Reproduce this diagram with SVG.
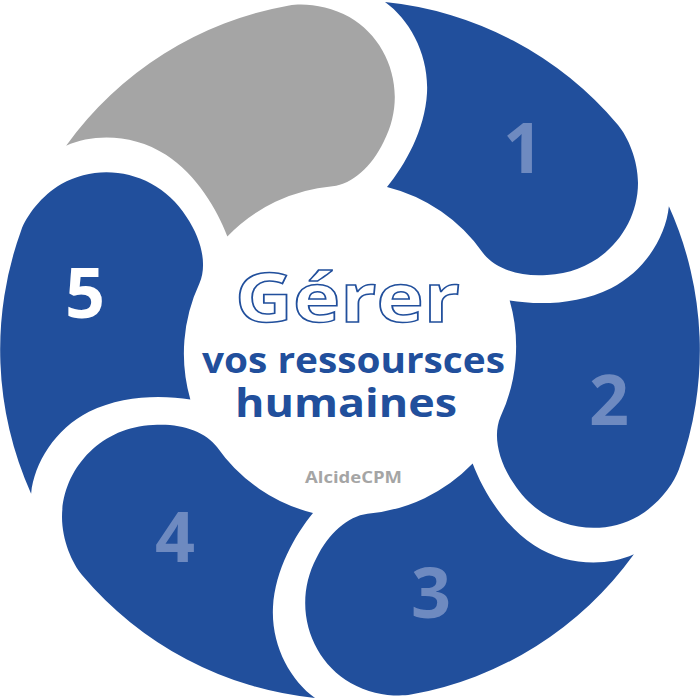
<svg xmlns="http://www.w3.org/2000/svg" width="700" height="700" viewBox="0 0 700 700">
<style>
.seg{fill:#214F9C}
.gray{fill:#A5A5A5}
.num{font-family:"Open Sans","Liberation Sans",sans-serif;font-weight:700;font-size:70px;fill:#6E8AC0;text-anchor:middle}
.ctr{font-family:"Open Sans","Liberation Sans",sans-serif;font-weight:700;text-anchor:middle}
</style>
<defs>
<path id="segShape" d="M385,2 A350,350 0 0 1 618,125 C628,137 638,160 638,183 C638,230 600,273 547,275 C520,277 495,269 483,253 A166,166 0 0 0 387,187 C405,165 425,130 427,93 C429,55 410,20 385,2 Z"/>
</defs>
<rect width="700" height="700" fill="#FFFFFF"/>
<g id="seg0"><use href="#segShape" class="gray" transform="rotate(-60 350 350)"/></g>
<g id="seg1"><use href="#segShape" class="seg"/><text class="num" x="523" y="173">1</text></g>
<g id="seg2"><use href="#segShape" class="seg" transform="rotate(60 350 350)"/><text class="num" x="609" y="425">2</text></g>
<g id="seg3"><use href="#segShape" class="seg" transform="rotate(120 350 350)"/><text class="num" x="431" y="618">3</text></g>
<g id="seg4"><use href="#segShape" class="seg" transform="rotate(180 350 350)"/><text class="num" x="175" y="562">4</text></g>
<g id="seg5"><use href="#segShape" class="seg" transform="rotate(240 350 350)"/><text class="num" x="85" y="318" style="fill:#FFFFFF">5</text></g>
<g id="center">
<text class="ctr" x="347.5" y="322" font-size="68" fill="#FFFFFF" stroke="#214F9C" stroke-width="1.5" textLength="225" lengthAdjust="spacingAndGlyphs">Gérer</text>
<text class="ctr" x="353.5" y="373" font-size="35" fill="#214F9C" textLength="303" lengthAdjust="spacingAndGlyphs">vos ressoursces</text>
<text class="ctr" x="346" y="417" font-size="40" fill="#214F9C" textLength="222" lengthAdjust="spacingAndGlyphs">humaines</text>
<text class="ctr" x="353.5" y="483" font-size="15.5" fill="#A5A5A5" textLength="97" lengthAdjust="spacingAndGlyphs">AlcideCPM</text>
</g>
<g id="connectors"></g>
</svg>
